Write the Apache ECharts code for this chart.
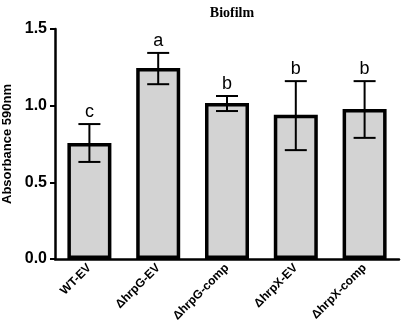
<!DOCTYPE html>
<html>
<head>
<meta charset="utf-8">
<script src="https://cdn.jsdelivr.net/npm/echarts@6/dist/echarts.min.js"></script>
<style>
html, body { margin: 0; padding: 0; background: #fff; }
#chart { width: 403px; height: 336px; }
</style>
</head>
<body>
<div id="chart"></div>
<script>
var categories = ['WT-EV', 'ΔhrpG-EV', 'ΔhrpG-comp', 'ΔhrpX-EV', 'ΔhrpX-comp'];
var means = [0.757, 1.246, 1.018, 0.94, 0.978];
var errLow = [0.633, 1.14, 0.965, 0.71, 0.79];
var errHigh = [0.88, 1.344, 1.063, 1.16, 1.16];
var letters = ['c', 'a', 'b', 'b', 'b'];
var yTicks = [0, 0.5, 1.0, 1.5];

var chart = echarts.init(document.getElementById('chart'));

var errData = categories.map(function (c, i) { return [i, errLow[i], errHigh[i], letters[i]]; });

option = {
    animation: false,
    title: {
        text: 'Biofilm',
        left: 227,
        top: 1,
        textAlign: 'center',
        textStyle: { fontFamily: 'Liberation Serif', fontWeight: 'bold', fontSize: 14, color: '#000' }
    },
    grid: { left: 55, right: 4, top: 29, bottom: 77, containLabel: false, outerBoundsMode: 'none' },
    xAxis: {
        type: 'category',
        data: categories,
        axisLine: { lineStyle: { color: '#000', width: 2.5 } },
        axisTick: { alignWithLabel: true, length: 5, lineStyle: { color: '#000', width: 2 } },
        axisLabel: {
            rotate: 45, margin: 7, color: '#000', fontWeight: 'bold',
            fontFamily: 'Liberation Sans', fontSize: 12
        }
    },
    yAxis: {
        type: 'value',
        min: 0, max: 1.5, interval: 0.5,
        name: 'Absorbance 590nm',
        nameLocation: 'middle',
        nameGap: 33,
        nameTextStyle: { fontFamily: 'Liberation Sans', fontWeight: 'bold', fontSize: 13, color: '#000' },
        axisLine: { show: true, lineStyle: { color: '#000', width: 2.5 } },
        axisTick: { show: true, length: 5, lineStyle: { color: '#000', width: 2 } },
        splitLine: { show: false },
        axisLabel: {
            margin: 8, color: '#000', fontWeight: 'bold', fontFamily: 'Liberation Sans', fontSize: 16,
            formatter: function (v) { return v.toFixed(1); }
        }
    },
    series: [
        {
            type: 'bar',
            data: means,
            barWidth: 44,
            itemStyle: { color: '#d3d3d3', borderColor: '#000', borderWidth: 3.5 }
        },
        {
            type: 'custom',
            data: errData,
            z: 10,
            renderItem: function (params, api) {
                var x = api.value(0);
                var lo = api.coord([x, api.value(1)]);
                var hi = api.coord([x, api.value(2)]);
                var half = 11;
                var style = { stroke: '#000', lineWidth: 2 };
                return {
                    type: 'group',
                    children: [
                        { type: 'line', shape: { x1: hi[0], y1: hi[1], x2: lo[0], y2: lo[1] }, style: style },
                        { type: 'line', shape: { x1: hi[0] - half, y1: hi[1], x2: hi[0] + half, y2: hi[1] }, style: style },
                        { type: 'line', shape: { x1: lo[0] - half, y1: lo[1], x2: lo[0] + half, y2: lo[1] }, style: style },
                        {
                            type: 'text',
                            style: {
                                x: hi[0], y: hi[1] - 3, text: api.value(3),
                                textAlign: 'center', textVerticalAlign: 'bottom',
                                fontFamily: 'Liberation Sans', fontSize: 18, fill: '#000'
                            }
                        }
                    ]
                };
            }
        }
    ]
};

chart.setOption(option);
</script>
</body>
</html>
